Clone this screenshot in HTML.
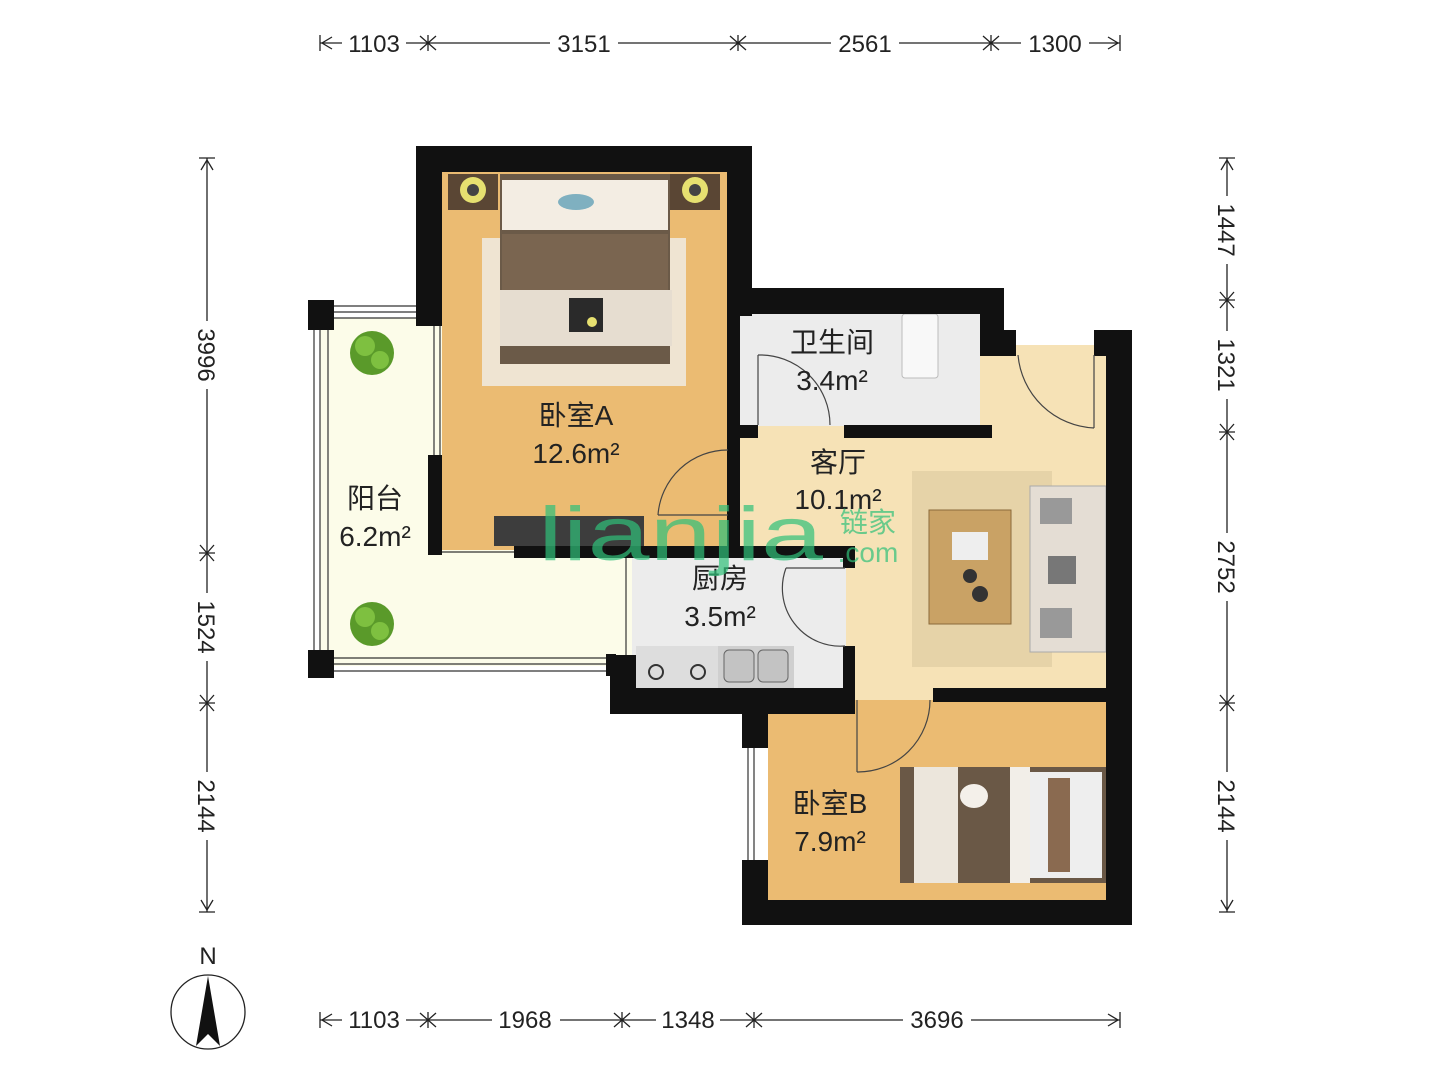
<!DOCTYPE html>
<html><head><meta charset="utf-8"><style>
html,body{margin:0;padding:0;background:#fff;}
svg{display:block}
text{font-family:"Liberation Sans","Noto Sans CJK SC",sans-serif;}
</style></head><body>
<svg width="1440" height="1080" viewBox="0 0 1440 1080" xmlns="http://www.w3.org/2000/svg">
<g stroke="#222" stroke-width="1.3" fill="none">
<line x1="320" y1="43" x2="1120" y2="43"/>
<path d="M320,35V51M1120,35V51M332,37L322,43L332,49M1108,37L1118,43L1108,49"/>
<path d="M428,35V51M420,36L436,50M420,50L436,36M738,35V51M730,36L746,50M730,50L746,36M991,35V51M983,36L999,50M983,50L999,36"/>
<line x1="320" y1="1020" x2="1120" y2="1020"/>
<path d="M320,1012V1028M1120,1012V1028M332,1014L322,1020L332,1026M1108,1014L1118,1020L1108,1026"/>
<path d="M428,1012V1028M420,1013L436,1027M420,1027L436,1013M622,1012V1028M614,1013L630,1027M614,1027L630,1013M754,1012V1028M746,1013L762,1027M746,1027L762,1013"/>
<line x1="207" y1="158" x2="207" y2="912"/>
<path d="M199,158H215M199,912H215M201,170L207,160L213,170M201,900L207,910L213,900"/>
<path d="M199,553H215M200,545L214,561M200,561L214,545M199,703H215M200,695L214,711M200,711L214,695"/>
<line x1="1227" y1="158" x2="1227" y2="912"/>
<path d="M1219,158H1235M1219,912H1235M1221,170L1227,160L1233,170M1221,900L1227,910L1233,900"/>
<path d="M1219,300H1235M1220,292L1234,308M1220,308L1234,292M1219,432H1235M1220,424L1234,440M1220,440L1234,424M1219,703H1235M1220,695L1234,711M1220,711L1234,695"/>
</g>
<g font-size="24" fill="#222" text-anchor="middle">
<rect x="342" y="28" width="64" height="30" fill="#fff"/><text x="374" y="52">1103</text>
<rect x="550" y="28" width="68" height="30" fill="#fff"/><text x="584" y="52">3151</text>
<rect x="831" y="28" width="68" height="30" fill="#fff"/><text x="865" y="52">2561</text>
<rect x="1021" y="28" width="68" height="30" fill="#fff"/><text x="1055" y="52">1300</text>
<rect x="342" y="1005" width="64" height="30" fill="#fff"/><text x="374" y="1028">1103</text>
<rect x="492" y="1005" width="68" height="30" fill="#fff"/><text x="525" y="1028">1968</text>
<rect x="656" y="1005" width="64" height="30" fill="#fff"/><text x="688" y="1028">1348</text>
<rect x="903" y="1005" width="68" height="30" fill="#fff"/><text x="937" y="1028">3696</text>
<g transform="translate(207,355) rotate(90)"><rect x="-34" y="-15" width="68" height="30" fill="#fff"/><text y="9">3996</text></g>
<g transform="translate(207,627) rotate(90)"><rect x="-34" y="-15" width="68" height="30" fill="#fff"/><text y="9">1524</text></g>
<g transform="translate(207,806) rotate(90)"><rect x="-34" y="-15" width="68" height="30" fill="#fff"/><text y="9">2144</text></g>
<g transform="translate(1227,230) rotate(90)"><rect x="-34" y="-15" width="68" height="30" fill="#fff"/><text y="9">1447</text></g>
<g transform="translate(1227,365) rotate(90)"><rect x="-34" y="-15" width="68" height="30" fill="#fff"/><text y="9">1321</text></g>
<g transform="translate(1227,567) rotate(90)"><rect x="-34" y="-15" width="68" height="30" fill="#fff"/><text y="9">2752</text></g>
<g transform="translate(1227,806) rotate(90)"><rect x="-34" y="-15" width="68" height="30" fill="#fff"/><text y="9">2144</text></g>
</g>

<!-- floors -->
<rect x="320" y="318" width="312" height="348" fill="#fcfce9"/>
<rect x="442" y="172" width="286" height="378" fill="#ebbb72"/>
<rect x="740" y="345" width="366" height="356" fill="#f6e2b6"/>
<rect x="740" y="314" width="240" height="112" fill="#ececec"/>
<rect x="632" y="558" width="214" height="132" fill="#ececec"/>
<rect x="768" y="700" width="338" height="200" fill="#ebbb72"/>

<!-- bedroom A furniture -->
<rect x="482" y="238" width="204" height="148" fill="#efe4d2"/>
<rect x="448" y="174" width="50" height="36" fill="#5a4634"/>
<circle cx="473" cy="190" r="13" fill="#e6e070"/><circle cx="473" cy="190" r="6" fill="#444"/>
<rect x="670" y="174" width="50" height="36" fill="#5a4634"/>
<circle cx="695" cy="190" r="13" fill="#e6e070"/><circle cx="695" cy="190" r="6" fill="#444"/>
<rect x="500" y="174" width="170" height="190" fill="#6b5a48"/>
<rect x="502" y="180" width="166" height="50" fill="#f3ede3"/>
<ellipse cx="576" cy="202" rx="18" ry="8" fill="#7fb0c0"/>
<rect x="502" y="234" width="166" height="56" fill="#7a6550"/>
<rect x="500" y="290" width="172" height="56" fill="#e6ddd0"/>
<rect x="569" y="298" width="34" height="34" fill="#2a2a2a"/>
<circle cx="592" cy="322" r="5" fill="#e6e070"/>
<rect x="494" y="516" width="150" height="30" fill="#3d3d3d"/>

<!-- living furniture -->
<rect x="912" y="471" width="140" height="196" fill="#e6d3a8"/>
<rect x="929" y="510" width="82" height="114" fill="#c9a265" stroke="#8a6a3a"/>
<rect x="952" y="532" width="36" height="28" fill="#eee"/>
<circle cx="970" cy="576" r="7" fill="#333"/><circle cx="980" cy="594" r="8" fill="#333"/>
<rect x="1030" y="486" width="76" height="166" fill="#e4ddd4" stroke="#aaa"/>
<rect x="1040" y="498" width="32" height="26" fill="#999"/>
<rect x="1048" y="556" width="28" height="28" fill="#777"/>
<rect x="1040" y="608" width="32" height="30" fill="#999"/>

<!-- kitchen fixtures -->
<rect x="636" y="646" width="82" height="42" fill="#ddd"/>
<circle cx="656" cy="672" r="7" fill="none" stroke="#333" stroke-width="2"/>
<circle cx="698" cy="672" r="7" fill="none" stroke="#333" stroke-width="2"/>
<rect x="718" y="646" width="76" height="42" fill="#cfcfcf"/>
<rect x="724" y="650" width="30" height="32" rx="5" fill="#c3c3c3" stroke="#666"/>
<rect x="758" y="650" width="30" height="32" rx="5" fill="#c3c3c3" stroke="#666"/>
<rect x="902" y="314" width="36" height="64" rx="3" fill="#f8f8f8" stroke="#bbb"/>

<!-- bedroom B bed -->
<rect x="900" y="767" width="206" height="116" fill="#6a5846"/>
<rect x="914" y="767" width="44" height="116" fill="#ece6dc"/>
<rect x="1010" y="767" width="20" height="116" fill="#f2eee8"/>
<rect x="1030" y="772" width="72" height="106" fill="#eee"/>
<rect x="1048" y="778" width="22" height="94" fill="#8a6a50"/>
<ellipse cx="974" cy="796" rx="14" ry="12" fill="#f4f0ea"/>

<!-- plants -->
<g fill="#5a9a2a"><circle cx="372" cy="353" r="22"/><circle cx="372" cy="624" r="22"/></g>
<g fill="#7ec040"><circle cx="365" cy="346" r="10"/><circle cx="380" cy="360" r="9"/><circle cx="365" cy="617" r="10"/><circle cx="380" cy="631" r="9"/></g>

<!-- walls -->
<g fill="#111">
<rect x="416" y="146" width="336" height="26"/>
<rect x="416" y="146" width="26" height="180"/>
<rect x="727" y="146" width="25" height="170"/>
<rect x="727" y="288" width="277" height="26"/>
<rect x="727" y="288" width="13" height="162"/>
<rect x="980" y="288" width="24" height="68"/>
<rect x="992" y="330" width="24" height="26"/>
<rect x="844" y="425" width="148" height="13"/>
<rect x="740" y="425" width="18" height="13"/>
<rect x="1094" y="330" width="38" height="26"/>
<rect x="1106" y="330" width="26" height="595"/>
<rect x="742" y="900" width="390" height="25"/>
<rect x="742" y="700" width="26" height="48"/>
<rect x="742" y="860" width="26" height="65"/>
<rect x="933" y="688" width="173" height="14"/>
<rect x="610" y="688" width="245" height="26"/>
<rect x="610" y="655" width="26" height="59"/>
<rect x="843" y="646" width="12" height="68"/>
<rect x="428" y="455" width="14" height="100"/>
<rect x="514" y="546" width="340" height="12"/>
<rect x="843" y="546" width="12" height="22"/>
<rect x="727" y="450" width="13" height="100"/>
<rect x="308" y="300" width="26" height="30"/>
<rect x="308" y="650" width="26" height="28"/>
<rect x="606" y="654" width="10" height="22"/>
</g>
<g stroke="#333" stroke-width="1.2" fill="none">
<path d="M334,306H416M334,312H416M334,318H416"/>
<path d="M314,330V650M320,330V650M328,330V650"/>
<path d="M334,658H606M334,664H606M334,671H606"/>
<path d="M434,326V455M440,326V455"/>
<path d="M748,748V860M754,748V860"/>
<path d="M626,558V655"/>
<path d="M442,552H514"/>
</g>
<g stroke="#444" stroke-width="1.2" fill="none">
<path d="M758,355V425M758,355A70,70 0 0 1 830,425"/>
<path d="M658,515H728M728,450A70,70 0 0 0 658,515"/>
<path d="M786,568H845M786,568A58,58 0 0 0 845,646"/>
<path d="M1018,355A80,80 0 0 0 1094,428M1094,355V428"/>
<path d="M857,700V772M857,772A72,72 0 0 0 930,700"/>
</g>

<g font-size="28" fill="#222" text-anchor="middle">
<text x="576" y="425">卧室A</text><text x="576" y="463">12.6m²</text>
<text x="375" y="508">阳台</text><text x="375" y="546">6.2m²</text>
<text x="832" y="352">卫生间</text><text x="832" y="390">3.4m²</text>
<text x="838" y="472">客厅</text><text x="838" y="509">10.1m²</text>
<text x="720" y="588">厨房</text><text x="720" y="626">3.5m²</text>
<text x="830" y="813">卧室B</text><text x="830" y="851">7.9m²</text>
</g>
<g fill="#2fc07a" opacity="0.7">
<text x="538" y="560" font-size="76" textLength="285" lengthAdjust="spacingAndGlyphs">lianjia</text>
<text x="868" y="532" font-size="28" text-anchor="middle">链家</text>
<text x="868" y="562" font-size="28" text-anchor="middle">.com</text>
</g>

<circle cx="208" cy="1012" r="37" fill="none" stroke="#222" stroke-width="1.3"/>
<path d="M208,976L196,1046L208,1034L220,1046Z" fill="#111"/>
<text x="208" y="964" font-size="24" text-anchor="middle" fill="#222">N</text>
</svg>
</body></html>
